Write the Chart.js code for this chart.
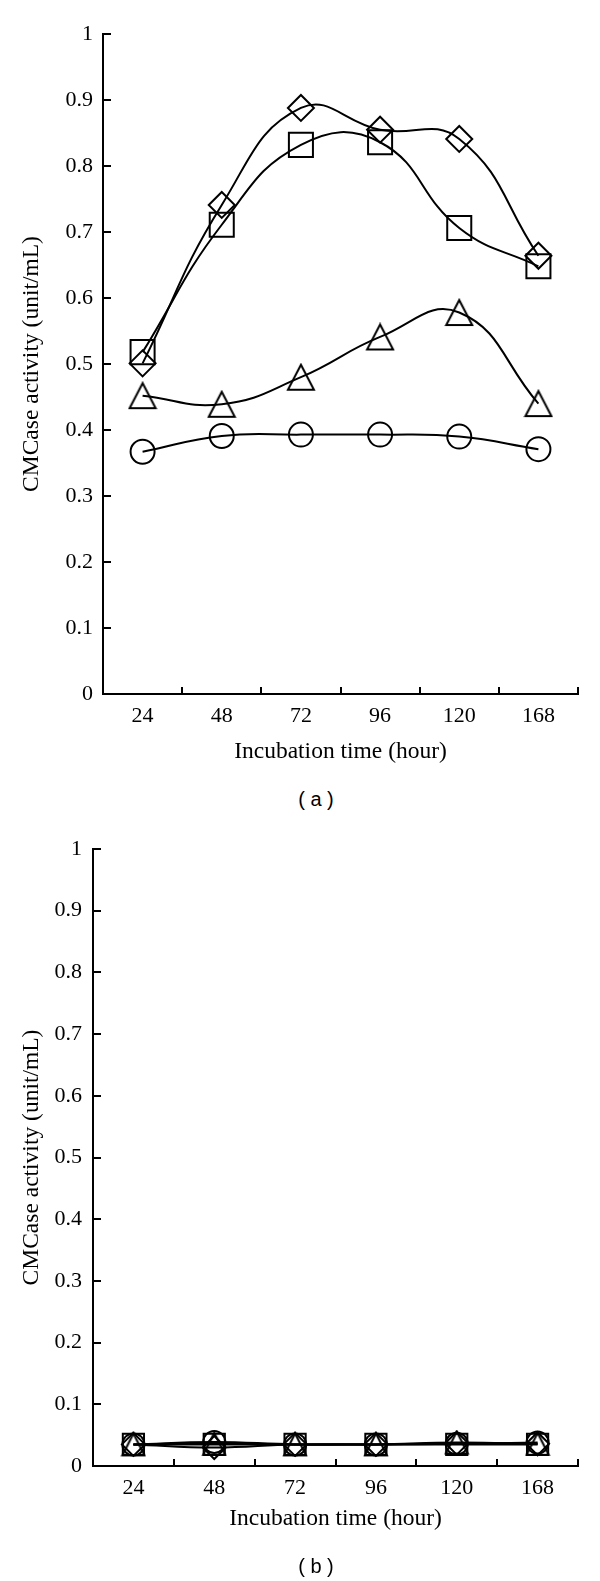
<!DOCTYPE html>
<html>
<head>
<meta charset="utf-8">
<script src="https://cdn.jsdelivr.net/npm/chart.js@4.4.1/dist/chart.umd.min.js"></script>
<style>
  html, body { margin:0; padding:0; background:#fff; }
  #page { position:relative; width:600px; height:1581px; background:#fff; overflow:hidden; }
  .box { position:absolute; left:0; width:600px; }
  .cap { position:absolute; left:0; width:632px; text-align:center; font-family:"Liberation Sans", Arial, sans-serif; font-size:20px; color:#000; line-height:24px; }
</style>
</head>
<body>
<div id="page">
  <div class="box" style="top:0;height:775px;"><canvas id="chartA"></canvas></div>
  <div class="cap" style="top:787px;">( a )</div>
  <div class="box" style="top:810px;height:745px;"><canvas id="chartB"></canvas></div>
  <div class="cap" style="top:1554px;">( b )</div>
</div>
<script>
// ---------- data ----------
const categories = ['24', '48', '72', '96', '120', '168'];
const yTickValues = [0, 0.1, 0.2, 0.3, 0.4, 0.5, 0.6, 0.7, 0.8, 0.9, 1];
const yTickLabels = ['0', '0.1', '0.2', '0.3', '0.4', '0.5', '0.6', '0.7', '0.8', '0.9', '1'];
const xTitle = 'Incubation time (hour)';
const yTitle = 'CMCase activity (unit/mL)';

// panel (a)
const aDiamond  = [0.501, 0.741, 0.888, 0.855, 0.841, 0.664];
const aSquare   = [0.518, 0.711, 0.832, 0.836, 0.706, 0.648];
const aTriangle = [0.452, 0.439, 0.480, 0.541, 0.578, 0.440];
const aCircle   = [0.367, 0.391, 0.393, 0.393, 0.390, 0.371];

// panel (b)
const bSquare   = [0.035, 0.035, 0.035, 0.035, 0.035, 0.035];
const bDiamond  = [0.035, 0.030, 0.035, 0.035, 0.037, 0.036];
const bTriangle = [0.035, 0.036, 0.035, 0.035, 0.038, 0.036];
const bCircle   = [0.035, 0.039, 0.035, 0.035, 0.036, 0.038];

// ---------- styling helpers ----------
Chart.defaults.font.family = '"Liberation Serif", "Times New Roman", serif';
Chart.defaults.color = '#000';

function triangleMarker(w, h) {
  const c = document.createElement('canvas');
  const pad = 2;
  c.width = Math.ceil(w + pad * 2);
  c.height = Math.ceil(h + pad * 2);
  const ctx = c.getContext('2d');
  ctx.strokeStyle = '#000';
  ctx.lineWidth = 2;
  ctx.lineJoin = 'miter';
  ctx.beginPath();
  ctx.moveTo(c.width / 2, (c.height - h) / 2);
  ctx.lineTo(c.width / 2 + w / 2, (c.height + h) / 2);
  ctx.lineTo(c.width / 2 - w / 2, (c.height + h) / 2);
  ctx.closePath();
  ctx.stroke();
  return c;
}

function ds(data, style, radius) {
  return {
    data: data,
    borderColor: '#000',
    borderWidth: 2,
    tension: 0.45,
    pointStyle: style,
    pointRadius: radius,
    pointHoverRadius: radius,
    pointBorderColor: '#000',
    pointBackgroundColor: 'rgba(0,0,0,0)',
    pointBorderWidth: 2,
    fill: false
  };
}

function makeChart(id, datasets, cfg) {
  return new Chart(document.getElementById(id), {
    type: 'line',
    data: { labels: categories, datasets: datasets },
    options: {
      responsive: true,
      maintainAspectRatio: false,
      animation: false,
      devicePixelRatio: 1,
      layout: { padding: { left: 0, right: 22, top: cfg.top, bottom: 0 } },
      plugins: { legend: { display: false }, tooltip: { enabled: false } },
      scales: {
        x: {
          type: 'category',
          offset: true,
          grid: { offset: true, drawOnChartArea: false, drawTicks: true, tickLength: -7, color: '#000', lineWidth: 2 },
          border: { display: true, color: '#000', width: 2 },
          ticks: { font: { size: 22 }, padding: cfg.xTickPad, color: '#000', maxRotation: 0, autoSkip: false },
          title: { display: true, text: xTitle, font: { size: 23.5 }, color: '#000', padding: { top: 0, bottom: cfg.xTitlePad } },
          afterFit: (s) => { s.height = cfg.xHeight; }
        },
        y: {
          min: 0, max: 1,
          afterBuildTicks: (s) => { s.ticks = yTickValues.map(v => ({ value: v })); },
          grid: { drawOnChartArea: false, drawTicks: true, tickLength: -8, color: '#000', lineWidth: 2 },
          border: { display: true, color: '#000', width: 2 },
          ticks: { font: { size: 22 }, padding: cfg.yTickPad, color: '#000', callback: (v, i) => yTickLabels[i] },
          title: { display: true, text: yTitle, font: { size: 23.5 }, color: '#000', padding: { top: cfg.yTitlePad, bottom: 0 } },
          afterFit: (s) => { s.width = cfg.yWidth; }
        }
      }
    }
  });
}

makeChart('chartA', [
  ds(aCircle, 'circle', 12),
  ds(aTriangle, triangleMarker(26, 25), 13),
  ds(aSquare, 'rect', 17),
  ds(aDiamond, 'rectRot', 13)
], { top: 34, xTickPad: 16, xTitlePad: 9, xHeight: 81, yTickPad: 18, yTitlePad: 18, yWidth: 103 });

makeChart('chartB', [
  ds(bCircle, 'circle', 11),
  ds(bTriangle, triangleMarker(22, 22), 11),
  ds(bSquare, 'rect', 15),
  ds(bDiamond, 'rectRot', 11.5)
], { top: 39, xTickPad: 16, xTitlePad: 22, xHeight: 89, yTickPad: 19, yTitlePad: 18, yWidth: 93 });
</script>
</body>
</html>
